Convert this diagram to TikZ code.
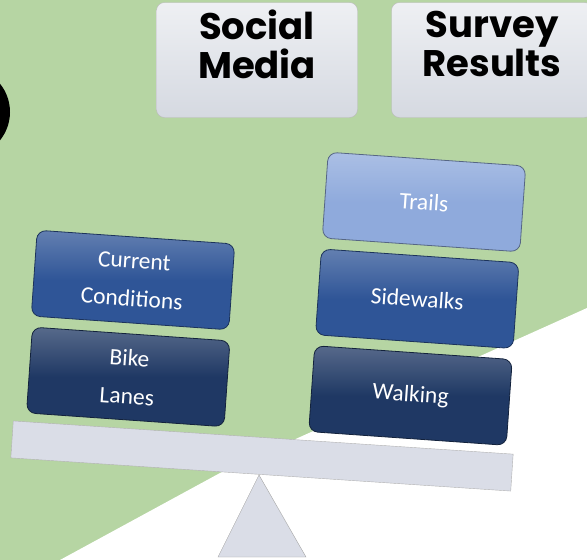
\documentclass[tikz,border=0pt]{standalone}
\usepackage{fontspec}
\setmainfont{Carlito}
\newfontfamily\headfont{Poppins}
\usetikzlibrary{positioning,calc}
\definecolor{bggreen}{RGB}{182,213,163}
\definecolor{navy}{RGB}{31,56,100}
\definecolor{midblue}{RGB}{47,85,151}
\definecolor{paleblue}{RGB}{143,170,220}
\definecolor{pearl}{RGB}{213,217,225}
\definecolor{beam}{RGB}{218,221,231}
\tikzset{tile/.style={draw=#1!60!black, line width=0.8pt, top color=#1!75!white, bottom color=#1, middle color=#1, rounded corners=9pt, minimum width=198pt, minimum height=86pt, rotate=-4, text=white, align=center, font=\fontsize{23.5}{38}\selectfont}}
\tikzstyle{tag}=[draw=gray!55, top color=white!60!pearl, bottom color=pearl, rounded corners=8pt, minimum width=201pt, minimum height=115pt, inner sep=0pt]
\tikzstyle{tagtext}=[font=\headfont\bfseries\fontsize{37}{39}\selectfont, align=center, inner sep=0pt]

\begin{document}
\begin{tikzpicture}[x=1pt, y=-1pt, node distance=97pt]
\useasboundingbox (0,0) rectangle (587,560);
\clip (0,0) rectangle (587,560);
% backdrop
\fill[bggreen] (0,0) rectangle (587,560);
\fill[white] (587,308) -- (220,473) -- (60,560) -- (587,560) -- cycle;
\fill[black] (-35,112) circle (45);
% top labels
\node[tag] (Soc) at (257,60) {};
\node[tagtext] at ([yshift=16pt]Soc.center) {Social\\Media};
\node[tag] (Sur) at (492,60) {};
\node[tagtext] at ([yshift=16pt]Sur.center) {Survey\\Results};
% seesaw
\draw[gray!70, fill=beam] (259,475) -- (306,557) -- (218,557) -- cycle;
\node[draw=gray!60, fill=beam, minimum width=501pt, minimum height=37pt, rotate=-3.8, inner sep=0pt] (bar) at (262,456) {};
% weights
\node[tile=midblue] (C) at (133,280) {Current\\Conditions};
\node[tile=navy, below of=C, xshift=2pt] (B) {Bike\\Lanes};
\node[tile=paleblue] (T) at (424,202) {Trails};
\node[tile=midblue, below of=T] (S) {Sidewalks};
\node[tile=navy, below of=S] (W) {Walking};
\end{tikzpicture}
\end{document}
